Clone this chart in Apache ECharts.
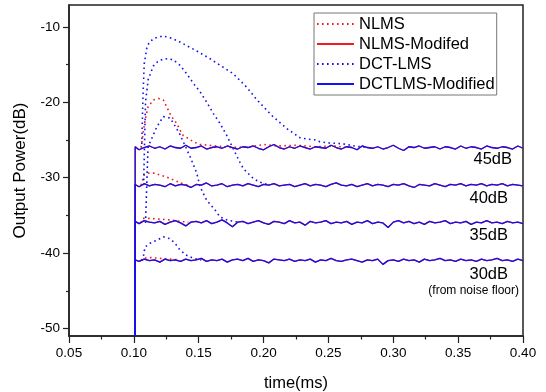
<!DOCTYPE html>
<html><head><meta charset="utf-8">
<script src="https://cdn.jsdelivr.net/npm/echarts@6/dist/echarts.min.js"></script>
<style>html,body{margin:0;padding:0;background:#fff}#c{width:546px;height:392px}</style>
</head><body><div id="c"></div>
<script>
// ---- axes / ticks ----
const yMajor = [-50, -40, -30, -20, -10];
const yMinor = [-45, -35, -25, -15];
const seriesNames = ['NLMS', 'NLMS-Modifed', 'DCT-LMS', 'DCTLMS-Modified'];
const levelLabels = ['45dB', '40dB', '35dB', '30dB'];
const noteLabel = '(from noise floor)';

// ---- steady-state (modified algorithms) ----
const riseT = 0.101;
const floorDb = -51;
const tFlat = [0.101,0.104,0.108,0.112,0.116,0.120,0.124,0.128,0.132,0.136,
  0.140,0.144,0.148,0.152,0.156,0.160,0.164,0.168,0.172,0.176,
  0.180,0.184,0.188,0.192,0.196,0.200,0.204,0.208,0.212,0.216,
  0.220,0.224,0.228,0.232,0.236,0.240,0.244,0.248,0.252,0.256,
  0.260,0.264,0.268,0.272,0.276,0.280,0.284,0.288,0.292,0.296,
  0.300,0.304,0.308,0.312,0.316,0.320,0.324,0.328,0.332,0.336,
  0.340,0.344,0.348,0.352,0.356,0.360,0.364,0.368,0.372,0.376,
  0.380,0.384,0.388,0.392,0.396,0.400];
const mod45 = [-25.9,-26.3,-26.0,-25.8,-26.1,-25.9,-26.2,-25.8,-26.0,-26.1,
  -25.7,-26.1,-26.0,-25.8,-26.2,-26.0,-25.9,-26.1,-25.8,-26.0,
  -26.2,-25.9,-26.0,-25.8,-26.1,-26.3,-25.9,-25.6,-26.0,-26.2,
  -25.9,-26.1,-25.8,-26.0,-26.2,-25.9,-26.0,-26.1,-25.7,-26.0,
  -26.2,-25.9,-26.0,-26.3,-25.8,-26.0,-26.1,-25.9,-26.2,-26.0,
  -25.7,-26.1,-26.4,-25.9,-26.0,-25.8,-26.1,-26.0,-25.9,-26.2,
  -25.9,-26.0,-26.2,-25.8,-26.1,-25.9,-26.0,-26.2,-25.8,-26.0,
  -26.1,-25.9,-26.0,-26.2,-25.8,-26.1];
const mod40 = [-30.9,-31.2,-30.8,-31.1,-30.9,-31.0,-31.2,-30.8,-31.1,-30.9,
  -31.0,-31.3,-30.9,-31.0,-30.7,-31.1,-31.0,-30.8,-31.2,-31.0,
  -30.9,-31.1,-30.8,-31.0,-31.2,-30.9,-31.0,-30.8,-31.1,-31.0,
  -30.9,-31.2,-31.0,-30.8,-31.1,-30.9,-31.0,-31.2,-30.9,-30.7,
  -31.0,-31.1,-30.9,-31.2,-31.0,-30.8,-31.1,-30.9,-31.0,-31.2,
  -30.9,-31.0,-30.8,-31.1,-31.3,-30.9,-31.0,-31.1,-30.8,-31.0,
  -31.2,-30.9,-31.0,-30.8,-31.1,-30.9,-31.0,-30.8,-31.1,-30.9,
  -31.0,-30.8,-31.1,-30.9,-31.0,-31.1];
const mod35 = [-35.8,-36.1,-35.7,-35.9,-36.0,-35.8,-36.2,-35.9,-35.7,-36.0,
  -36.4,-35.9,-35.8,-36.0,-35.7,-36.1,-35.9,-35.6,-36.0,-36.5,
  -35.9,-35.8,-36.1,-35.9,-35.7,-36.0,-36.2,-35.8,-35.9,-36.1,
  -35.7,-36.0,-35.9,-36.3,-35.8,-36.0,-35.9,-35.7,-36.1,-35.9,
  -36.0,-35.8,-36.2,-35.9,-36.0,-35.7,-36.1,-35.9,-36.0,-36.6,
  -35.9,-35.7,-36.0,-35.8,-36.1,-35.9,-36.2,-35.8,-36.0,-35.9,
  -35.7,-36.1,-35.9,-36.0,-35.8,-36.2,-35.9,-36.0,-35.7,-36.0,
  -35.9,-36.1,-35.8,-36.0,-35.9,-36.1];
const mod30 = [-40.9,-41.1,-40.8,-41.0,-40.9,-41.2,-40.8,-41.0,-40.9,-41.1,
  -40.8,-41.0,-40.9,-40.7,-41.1,-40.9,-41.0,-40.8,-41.2,-40.9,
  -40.8,-41.0,-40.7,-41.1,-40.9,-41.0,-41.3,-40.8,-40.9,-41.0,
  -40.8,-41.1,-40.9,-41.0,-40.8,-41.2,-40.9,-41.0,-40.7,-41.0,
  -41.1,-40.9,-40.8,-41.0,-41.2,-40.9,-41.0,-40.8,-41.5,-41.0,
  -40.9,-41.1,-40.8,-41.0,-40.9,-41.2,-40.8,-41.0,-40.9,-40.7,
  -41.0,-40.9,-41.1,-40.8,-41.0,-40.9,-41.1,-40.8,-41.0,-40.9,
  -40.7,-41.0,-40.9,-41.1,-40.8,-41.0];

// ---- transients: NLMS (red dotted) ----
const nlms45 = [[0.1055,-26.0],[0.106,-25.5],[0.1086,-22.4],[0.111,-20.6],[0.115,-19.7],[0.119,-19.5],
  [0.1227,-19.7],[0.1253,-20.6],[0.129,-21.9],[0.133,-22.8],[0.1356,-23.7],[0.138,-24.4],[0.142,-24.8],
  [0.146,-25.25],[0.151,-25.6],[0.164,-25.8],[0.175,-26.0],[0.19,-25.9],[0.2,-25.6],[0.21,-25.8],
  [0.225,-25.7],[0.24,-25.9],[0.255,-25.8],[0.265,-26.0]];
const nlms40 = [[0.1055,-31.0],[0.108,-29.6],[0.111,-29.4],[0.116,-29.4],[0.121,-29.7],[0.125,-29.9],
  [0.1305,-30.3],[0.136,-30.7],[0.142,-31.0]];
const nlms35 = [[0.1055,-36.0],[0.107,-35.4],[0.1125,-35.4],[0.12,-35.5],[0.128,-35.6],[0.135,-35.8],[0.142,-35.9]];
const nlms30 = [[0.1055,-41.0],[0.107,-40.7],[0.113,-40.6],[0.12,-40.7],[0.127,-40.8],[0.135,-40.9]];

// ---- transients: DCT-LMS (blue dotted) ----
const dct45 = [[0.106,-26.2],[0.107,-19.3],[0.108,-14.9],[0.110,-12.8],[0.112,-12.0],[0.116,-11.5],
  [0.1225,-11.2],[0.129,-11.5],[0.1355,-12.0],[0.142,-12.6],[0.1495,-13.3],[0.1585,-14.2],[0.1665,-15.1],
  [0.1765,-16.2],[0.187,-18.0],[0.1945,-19.6],[0.2,-20.6],[0.206,-21.7],[0.21,-22.3],[0.214,-22.9],
  [0.218,-23.5],[0.223,-24.1],[0.228,-24.7],[0.2345,-24.9],[0.24,-25.0],[0.2435,-25.25],[0.251,-25.4],
  [0.261,-25.5],[0.27,-25.8],[0.28,-26.0]];
const dct40 = [[0.1075,-31.0],[0.109,-20.0],[0.111,-17.0],[0.115,-15.2],[0.119,-14.5],[0.1227,-14.3],
  [0.1266,-14.2],[0.1305,-14.4],[0.1356,-15.1],[0.1407,-16.2],[0.1459,-17.5],[0.151,-18.6],[0.1562,-20.0],
  [0.1613,-21.5],[0.1664,-22.8],[0.1716,-24.4],[0.1767,-26.2],[0.1819,-28.0],[0.1844,-28.8],[0.192,-30.1],
  [0.197,-30.6],[0.205,-31.0]];
const dct35 = [[0.109,-36.0],[0.1105,-28.0],[0.111,-25.9],[0.1176,-23.3],[0.1227,-21.9],[0.128,-22.1],
  [0.133,-23.5],[0.1356,-24.3],[0.1433,-27.2],[0.1485,-29.4],[0.151,-31.2],[0.1562,-33.0],[0.1626,-34.3],
  [0.1664,-35.2],[0.1716,-35.6],[0.18,-35.9]];
const dct30 = [[0.106,-41.0],[0.1073,-40.5],[0.1086,-39.2],[0.1125,-38.7],[0.1176,-38.3],[0.1227,-37.85],
  [0.1279,-38.1],[0.1317,-38.7],[0.1356,-39.6],[0.1407,-40.3],[0.146,-40.7],[0.152,-40.9]];

// ---- build ----
const RED = '#ee1c1c', BLUE = '#1212f0';
const FONT = '"Liberation Sans", Arial, sans-serif';
function flat(vals) {
  const d = [[riseT, floorDb]];
  for (let i = 0; i < tFlat.length && i < vals.length; i++) d.push([tFlat[i], vals[i]]);
  return d;
}
const dottedStyle = c => ({ color: c, width: 1.6, type: [1.6, 3.4], cap: 'butt' });
const solidStyle = c => ({ color: c, width: 1.3, type: 'solid' });
function mk(name, data, c, style, z) {
  return { type: 'line', name: name, data: data, symbol: 'none', color: c, lineStyle: style(c),
    silent: true, animation: false, z: z, clip: true };
}
const series = [];
[nlms45, nlms40, nlms35, nlms30].forEach(d => series.push(mk(seriesNames[0], d, RED, dottedStyle, 2)));
[mod45, mod40, mod35, mod30].forEach(v => series.push(mk(seriesNames[1], flat(v), RED, solidStyle, 3)));
[dct45, dct40, dct35, dct30].forEach(d => series.push(mk(seriesNames[2], d, BLUE, dottedStyle, 2)));
[mod45, mod40, mod35, mod30].forEach(v => series.push(mk(seriesNames[3], flat(v), BLUE, solidStyle, 4)));

const txt = (s, x, y, size) => ({ type: 'text', x: x, y: y, silent: true, z: 10,
  style: { text: s, font: size + 'px ' + FONT, fill: '#000', align: 'right', verticalAlign: 'middle' } });

const option = {
  animation: false,
  backgroundColor: '#fff',
  textStyle: { fontFamily: FONT },
  grid: { left: 69, right: 23, top: 5, bottom: 56, show: true, borderColor: '#222', borderWidth: 1.5,
    containLabel: false, outerBoundsMode: 'none' },
  legend: {
    data: seriesNames, orient: 'vertical', left: 314, top: 13,
    itemWidth: 37, itemHeight: 10, itemGap: 2, padding: [2, 2, 2, 2],
    borderColor: '#777', borderWidth: 1, backgroundColor: '#fff',
    itemStyle: { opacity: 0 },
    textStyle: { fontSize: 16.5, color: '#000', fontFamily: FONT, lineHeight: 18 },
    selectedMode: false, z: 20
  },
  xAxis: {
    type: 'value', min: 0.05, max: 0.4, interval: 0.05,
    name: 'time(ms)', nameLocation: 'middle', nameGap: 39,
    nameTextStyle: { fontSize: 16.5, color: '#000', fontFamily: FONT },
    axisLine: { show: true, lineStyle: { color: '#222', width: 1.5 } },
    axisTick: { show: true, length: 7, lineStyle: { color: '#222', width: 1.2 } },
    minorTick: { show: true, splitNumber: 2, length: 3.5, lineStyle: { color: '#222', width: 1.2 } },
    axisLabel: { fontSize: 13.5, color: '#000', margin: 10, formatter: v => v.toFixed(2) },
    splitLine: { show: false }, minorSplitLine: { show: false }
  },
  yAxis: [{
    type: 'value', min: floorDb, max: -7.1,
    name: 'Output Power(dB)', nameLocation: 'middle', nameGap: 40,
    nameTextStyle: { fontSize: 17, color: '#000', fontFamily: FONT },
    axisLine: { show: true, lineStyle: { color: '#222', width: 1.5 } },
    axisTick: { show: true, length: 6, customValues: yMajor, lineStyle: { color: '#222', width: 1.2 } },
    axisLabel: { fontSize: 13.5, color: '#000', margin: 9, customValues: yMajor },
    splitLine: { show: false }
  }, {
    type: 'value', min: floorDb, max: -7.1, position: 'left',
    axisLine: { show: false },
    axisTick: { show: true, length: 3, customValues: yMinor, lineStyle: { color: '#222', width: 1.2 } },
    axisLabel: { show: false },
    splitLine: { show: false }
  }],
  graphic: [
    txt(levelLabels[0], 512, 159, 16.5),
    txt(levelLabels[1], 508, 198, 16.5),
    txt(levelLabels[2], 508, 235, 16.5),
    txt(levelLabels[3], 508, 274, 16.5),
    txt(noteLabel, 519, 291, 12)
  ],
  series: series
};
const chart = echarts.init(document.getElementById('c'), null, { renderer: 'canvas' });
chart.setOption(option);
</script></body></html>
